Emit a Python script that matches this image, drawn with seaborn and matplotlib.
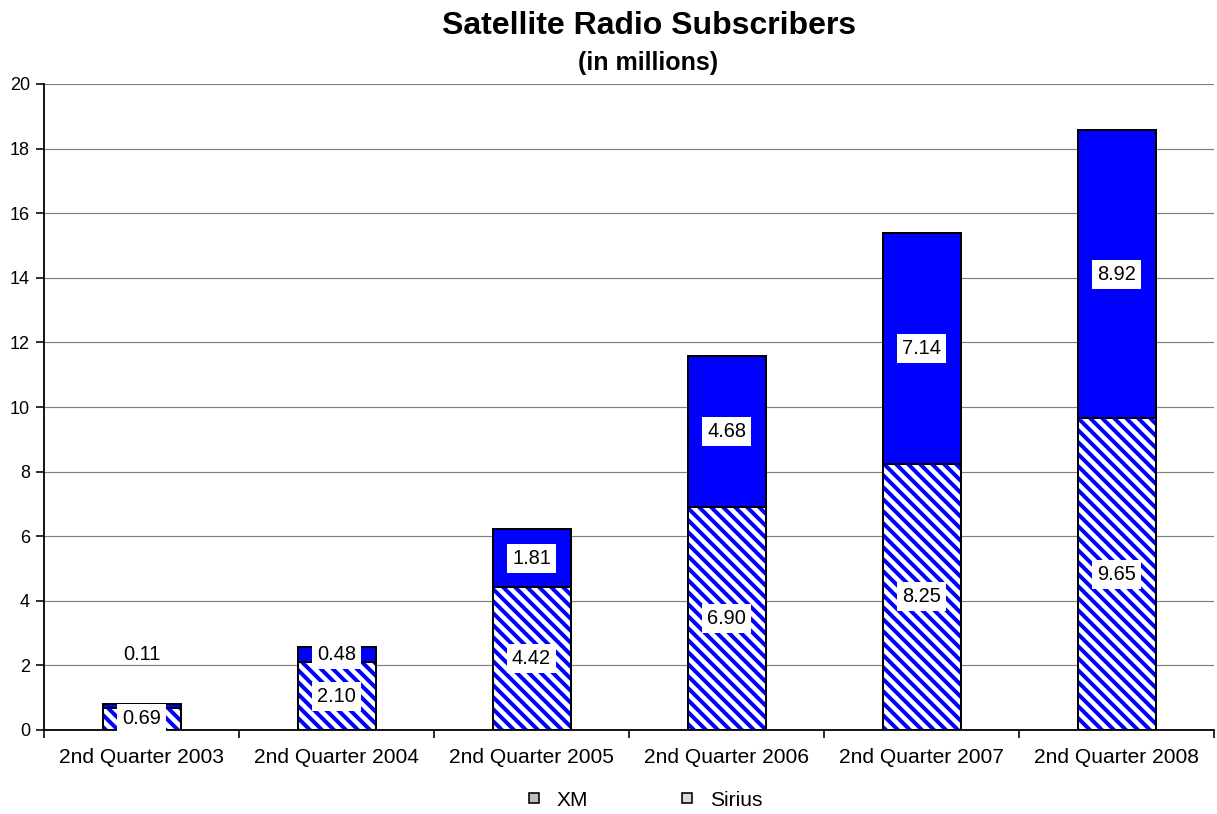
import matplotlib
matplotlib.use("Agg")
import matplotlib.pyplot as plt
from matplotlib.lines import Line2D
import numpy as np
import pandas as pd
import seaborn as sns

# Subscriber counts in millions
quarters = ["2nd Quarter 2003", "2nd Quarter 2004", "2nd Quarter 2005",
            "2nd Quarter 2006", "2nd Quarter 2007", "2nd Quarter 2008"]
xm = [0.69, 2.10, 4.42, 6.90, 8.25, 9.65]
sirius = [0.11, 0.48, 1.81, 4.68, 7.14, 8.92]
y_ticks = [0, 2, 4, 6, 8, 10, 12, 14, 16, 18, 20]

sns.set_theme(style="white")
plt.rcParams["font.family"] = ["Liberation Sans", "DejaVu Sans"]
plt.rcParams["hatch.linewidth"] = 2.0
plt.rcParams["text.color"] = "black"
plt.rcParams["xtick.color"] = "black"
plt.rcParams["ytick.color"] = "black"
plt.rcParams["xtick.labelcolor"] = "black"
plt.rcParams["ytick.labelcolor"] = "black"

df = pd.DataFrame({"quarter": quarters, "xm": xm, "sirius": sirius})
df["total"] = df["xm"] + df["sirius"]

DPI = 144
fig = plt.figure(figsize=(1217 / DPI, 814 / DPI), dpi=DPI)
ax = fig.add_axes([44 / 1217, 84 / 814, 1170 / 1217, 646 / 814])

blue = "#0000ff"
bar_w = 0.4

# Stacked total (Sirius on top) drawn first, XM layered over it
sns.barplot(data=df, x="quarter", y="total", color=blue, saturation=1,
            width=bar_w, edgecolor="black", linewidth=1.0, ax=ax, zorder=2)
sns.barplot(data=df, x="quarter", y="xm", color="white", saturation=1,
            width=bar_w, edgecolor=blue, linewidth=0, hatch="\\\\\\\\",
            ax=ax, zorder=3)
sns.barplot(data=df, x="quarter", y="xm", color="black", fill=False,
            width=bar_w, linewidth=1.0, ax=ax, zorder=4)

# Value labels
box = dict(boxstyle="square,pad=0.25", facecolor="white", edgecolor="none")
for i, row in df.iterrows():
    ax.text(i, row["xm"] / 2, f"{row['xm']:.2f}", ha="center", va="center",
            fontsize=10, color="black", bbox=box, zorder=6)
    if row["sirius"] < 0.3:
        ax.annotate(f"{row['sirius']:.2f}", xy=(i, row["total"]),
                    xytext=(0, 25), textcoords="offset points",
                    ha="center", va="center", fontsize=10, zorder=6)
    else:
        ax.text(i, row["xm"] + row["sirius"] / 2, f"{row['sirius']:.2f}",
                ha="center", va="center", fontsize=10, color="black",
                bbox=box, zorder=6)

# Axes styling
ax.set_xlim(-0.5, len(quarters) - 0.5)
ax.set_ylim(0, 20)
ax.set_yticks(y_ticks)
ax.set_yticklabels([str(t) for t in y_ticks], fontsize=9)
ax.yaxis.grid(True, color="#808080", linewidth=0.6, zorder=0)
ax.set_axisbelow(True)
ax.set_xlabel("")
ax.set_ylabel("")
ax.tick_params(axis="x", which="major", length=0, labelsize=10.5, pad=9)
ax.set_xticks(np.arange(-0.5, len(quarters)), minor=True)
ax.tick_params(axis="x", which="minor", length=4, width=0.8, direction="out",
               bottom=True)
ax.tick_params(axis="y", length=4, width=0.8, direction="out", left=True,
               pad=3)
for side in ["top", "right"]:
    ax.spines[side].set_visible(False)
for side in ["left", "bottom"]:
    ax.spines[side].set_visible(True)
    ax.spines[side].set_color("black")
    ax.spines[side].set_linewidth(0.9)

# Titles
fig.text(649 / 1217, 1 - 26 / 814, "Satellite Radio Subscribers",
         ha="center", va="center", fontsize=16, fontweight="bold")
fig.text(648 / 1217, 1 - 63 / 814, "(in millions)",
         ha="center", va="center", fontsize=12.5, fontweight="bold")

# Legend
handles = [
    Line2D([], [], marker="s", linestyle="none", markersize=5,
           markerfacecolor="#bdbdbd", markeredgecolor="black",
           markeredgewidth=0.8, label="XM"),
    Line2D([], [], marker="s", linestyle="none", markersize=5,
           markerfacecolor="#d9d9d9", markeredgecolor="black",
           markeredgewidth=0.8, label="Sirius"),
]
fig.legend(handles=handles, loc="center", bbox_to_anchor=(643 / 1217, 1 - 800 / 814),
           ncol=2, frameon=False, fontsize=10.5, handlelength=1.0,
           handletextpad=0.6, columnspacing=4.2)

fig.savefig("out.png", dpi=DPI)
